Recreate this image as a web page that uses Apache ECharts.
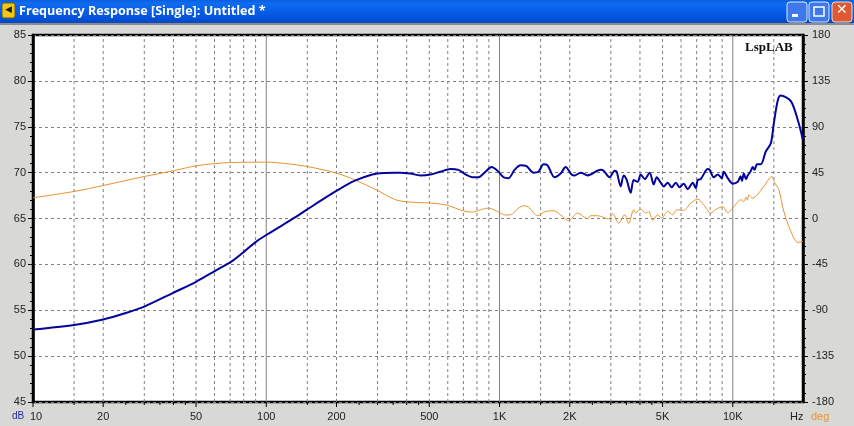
<!DOCTYPE html>
<html>
<head>
<meta charset="utf-8">
<style>html,body{margin:0;padding:0;background:#d8d8d4}#c{width:854px;height:426px}</style>
<script src="https://cdn.jsdelivr.net/npm/echarts@6/dist/echarts.min.js"></script>
</head>
<body>
<div id="c"></div>
<script>
const windowTitle = 'Frequency Response [Single]: Untitled *';
const watermark = 'LspLAB';
const dbFreq = [10,15,20,25,30,39.9,50,60.4,70.8,81.3,89.7,100,134.5,150,199.7,238.6,299.6,357.8,375.9,415,458,506,558,616,667,715,766,813,871,924,980,1040,1093,1160,1231,1306,1399,1470,1544,1607,1722,1828,1920,2037,2098,2227,2386,2457,2713,2795,2965,3116,3178,3306,3406,3509,3650,3760,3911,4030,4192,4403,4580,4719,4909,5057,5260,5472,5693,5923,6160,6410,6734,6937,7076,7289,7811,7966,8289,8623,8971,9151,9517,10000,10507,10800,10950,11148,11400,11598,11900,12186,12400,12700,13188,13850,14560,15000,15600,16070,17740,19010,19970];
const dbValues = [52.9,53.4,54.0,54.7,55.4,56.9,58.1,59.3,60.3,61.5,62.4,63.2,65.2,66.0,68.0,69.1,69.9,70.0,70.0,69.9,69.7,69.8,70.1,70.4,70.3,69.8,69.5,69.5,70.1,70.6,70.2,69.5,69.4,70.3,70.8,70.7,70.0,70.1,70.9,70.8,69.5,69.9,70.6,69.8,69.7,70.0,69.7,69.8,70.3,70.2,69.5,70.2,70.1,68.5,69.7,69.2,67.8,69.2,69.0,69.8,69.3,70.0,68.7,69.5,68.9,68.5,68.9,68.4,68.9,68.4,68.8,68.2,68.9,68.3,69.2,69.3,70.4,70.3,69.5,69.8,69.4,70.1,69.4,68.8,69.0,69.6,69.1,69.9,69.3,69.7,70.1,70.6,70.3,70.9,70.9,72.3,73.2,75.4,77.9,78.4,77.8,75.7,73.6];
const phaseFreq = [10,15,20,30,40,50,60.4,70.8,100,120.6,150,200,239,300,358,415,506,586,647,715,766,829,897,980,1061,1115,1207,1268,1332,1456,1576,1705,1864,1978,2162,2386,2457,2634,2937,3055,3242,3440,3578,3760,3835,4030,4232,4359,4537,4766,4958,5260,5527,5750,6160,6602,7076,7508,8048,8455,9061,9517,10099,10823,11148,11400,11550,11714,12100,12550,13580,14700,15150,15760,16550,17740,19010,19970];
const phaseValues = [20.3,26.5,32.4,41.2,46.8,51.7,53.9,54.9,55.3,53.9,51,44.5,38,27.5,18.4,16.1,15.1,13.5,10.2,6.9,6.3,8.6,10.2,6.9,3.4,3.7,10.2,12.5,11.2,2.7,6.9,7.6,2.0,-2.2,5.3,-0.2,2.7,2.7,-0.5,4.6,-4.5,3.7,-5.1,8.6,5.6,9.3,5.3,6.9,-1.9,3.7,0.4,6.9,3.7,8.6,7.9,15.1,19.0,13.5,5.3,9,11.5,5.6,11.5,18.4,16.7,21,18,23.3,20,21.6,31.4,41.2,34.7,28.2,6.9,-12.7,-23.5,-22.1];
const dashedGridFreq = [15,20,30,40,50,60,70,80,90,150,200,300,400,500,600,700,800,900,1500,2000,3000,4000,5000,6000,7000,8000,9000,15000];
const solidGridFreq = [100,1000,10000];
const shortTickFreq = [15,25,30,35,40,45,150,250,300,350,400,450,1500,2500,3000,3500,4000,4500,15000];
const labelFreq = [10,20,50,100,200,500,1000,2000,5000,10000];
const labelText = ['10','20','50','100','200','500','1K','2K','5K','10K'];

const chart = echarts.init(document.getElementById('c'), null, {renderer:'canvas', width:854, height:426});
const pairs = (a,b) => a.map((v,i) => [v,b[i]]);
const vGrid = (arr, color) => ({
  type:'custom', xAxisIndex:0, yAxisIndex:0, silent:true, z:1, clip:false,
  data: arr.map(f => [f,45]),
  renderItem:(p,api) => {
    const a = api.coord([api.value(0),45]), b = api.coord([api.value(0),85]);
    return {type:'line', shape:{x1:a[0],y1:a[1],x2:b[0],y2:b[1]},
      style:{stroke:color.c, lineWidth:1, lineDash:color.d}};
  }
});
const xTicks = (arr, len) => ({
  type:'custom', xAxisIndex:0, yAxisIndex:0, silent:true, z:4, clip:false,
  data: arr.map(f => [f,45]),
  renderItem:(p,api) => {
    const a = api.coord([api.value(0),45]);
    return {type:'line', shape:{x1:a[0],y1:a[1],x2:a[0],y2:a[1]+len}, style:{stroke:'#000', lineWidth:1}};
  }
});
chart.setOption({
  animation:false,
  backgroundColor:'#d8d8d4',
  textStyle:{fontFamily:'Liberation Sans'},
  grid:{left:33, right:51, top:35, bottom:24, show:true, backgroundColor:'#fff', borderColor:'#000', borderWidth:2.5, containLabel:false},
  xAxis:{type:'log', logBase:10, min:10, max:20000, axisLine:{show:false}, axisTick:{show:false}, axisLabel:{show:false}, splitLine:{show:false}, minorTick:{show:false}, minorSplitLine:{show:false}},
  yAxis:[
    {type:'value', min:45, max:85, interval:5, position:'left',
     axisLine:{show:true, lineStyle:{color:'#000', width:2.5}},
     axisTick:{show:true, length:5, lineStyle:{color:'#000'}},
     minorTick:{show:true, splitNumber:5, length:3, lineStyle:{color:'#000'}},
     axisLabel:{color:'#222', fontSize:11, margin:7},
     splitLine:{show:true, lineStyle:{color:'#808080', type:[3,3], width:1}}},
    {type:'value', min:-180, max:180, interval:45, position:'right',
     axisLine:{show:true, lineStyle:{color:'#000', width:2.5}},
     axisTick:{show:true, length:5, lineStyle:{color:'#000'}},
     minorTick:{show:true, splitNumber:5, length:3, lineStyle:{color:'#000'}},
     axisLabel:{color:'#222', fontSize:11, margin:9},
     splitLine:{show:false}}
  ],
  series:[
    vGrid(dashedGridFreq,{c:'#808080',d:[3,3]}),
    vGrid(solidGridFreq,{c:'#808080',d:null}),
    xTicks(shortTickFreq,3),
    xTicks(labelFreq,5),
    {type:'custom', xAxisIndex:0, yAxisIndex:0, silent:true, z:4, clip:false,
     data:labelFreq.map((f,i) => [f,45,i]),
     renderItem:(p,api) => {
       const a = api.coord([api.value(0),45]), i = api.value(2);
       return {type:'text', x:a[0]+(i===0?3:0), y:a[1]+9,
         style:{text:labelText[i], fill:'#222', font:'11px "Liberation Sans"', textAlign:'center', textVerticalAlign:'top'}};
     }},
    {name:'deg', type:'line', yAxisIndex:1, data:pairs(phaseFreq,phaseValues), showSymbol:false, symbol:'none', z:5, smooth:0.3,
     lineStyle:{color:'#e8922e', width:1}},
    {name:'dB', type:'line', yAxisIndex:0, data:pairs(dbFreq,dbValues), showSymbol:false, symbol:'none', z:6, smooth:0.3,
     lineStyle:{color:'#04049c', width:2}}
  ],
  graphic:[
    {type:'rect', z:100, shape:{x:0,y:0,width:854,height:23},
     style:{fill:new echarts.graphic.LinearGradient(0,0,0,1,[{offset:0,color:'#0a5fe0'},{offset:0.15,color:'#0f6cf0'},{offset:0.7,color:'#0355e0'},{offset:1,color:'#0248c8'}])}},
    {type:'rect', z:100, shape:{x:0,y:23,width:854,height:2}, style:{fill:'#8c8c88'}},
    {type:'rect', z:101, shape:{x:2,y:3,width:13,height:15,r:2}, style:{fill:'#f2c818', stroke:'#6a5a10', lineWidth:1}},
    {type:'text', z:101, x:5, y:5, style:{text:'◀', fill:'#222', font:'9px "DejaVu Sans"'}},
    {type:'text', z:102, x:19, y:5, style:{text:windowTitle, fill:'#fff', font:'bold 12.6px "Open Sans"', textShadowColor:'#0a2a80', textShadowBlur:0, textShadowOffsetX:1, textShadowOffsetY:1}},
    {type:'rect', z:101, shape:{x:787,y:2,width:20,height:20,r:3}, style:{fill:'#3f78e8', stroke:'#dfe8fb', lineWidth:1}},
    {type:'rect', z:102, shape:{x:792,y:14,width:6,height:3}, style:{fill:'#fff'}},
    {type:'rect', z:101, shape:{x:809,y:2,width:20,height:20,r:3}, style:{fill:'#3f78e8', stroke:'#dfe8fb', lineWidth:1}},
    {type:'rect', z:102, shape:{x:814,y:7,width:10,height:9}, style:{fill:'none', stroke:'#fff', lineWidth:1.5}},
    {type:'rect', z:101, shape:{x:832,y:2,width:20,height:20,r:3}, style:{fill:'#dd5a32', stroke:'#f3ddd5', lineWidth:1}},
    {type:'text', z:102, x:836, y:3, style:{text:'✕', fill:'#fff', font:'bold 14px "DejaVu Sans"'}},
    {type:'text', z:20, x:745, y:41, style:{text:watermark, fill:'#111', font:'bold 13px "Liberation Serif"', textShadowColor:'#999', textShadowBlur:0, textShadowOffsetX:2, textShadowOffsetY:1}},
    {type:'text', z:20, x:12, y:411, style:{text:'dB', fill:'#2a2aa0', font:'10px "Liberation Sans"'}},
    {type:'text', z:20, x:790, y:411, style:{text:'Hz', fill:'#222', font:'11px "Liberation Sans"'}},
    {type:'text', z:20, x:811, y:411, style:{text:'deg', fill:'#e8922e', font:'11px "Liberation Sans"'}}
  ]
});
</script>
</body>
</html>
